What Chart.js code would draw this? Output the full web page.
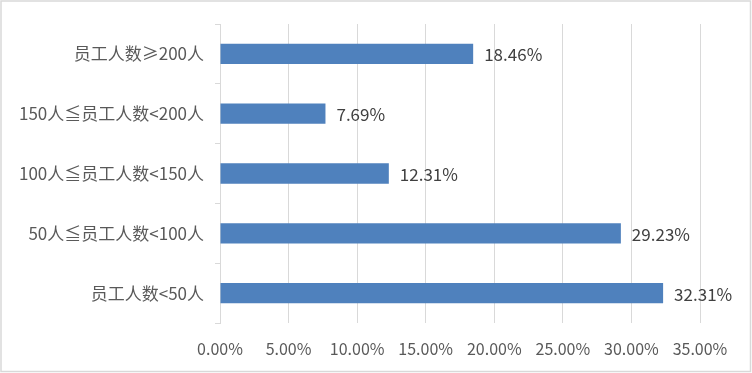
<!DOCTYPE html>
<html>
<head>
<meta charset="utf-8">
<script src="https://cdn.jsdelivr.net/npm/chart.js@4"></script>
<style>
html,body{margin:0;padding:0;background:#fff;}
#wrap{width:752px;height:373px;position:relative;}
</style>
</head>
<body>
<div id="wrap"><canvas id="c" width="752" height="373"></canvas></div>
<script>
const categories = ["员工人数≥200人", "150人≦员工人数<200人", "100人≦员工人数<150人", "50人≦员工人数<100人", "员工人数<50人"];
const values = [18.46, 7.69, 12.31, 29.23, 32.31];
const xTicks = [0, 5, 10, 15, 20, 25, 30, 35];

const FONT = '"Noto Sans CJK SC", "Noto Sans", sans-serif';

const frame = {
  id: 'frame',
  beforeDraw(chart) {
    const ctx = chart.ctx;
    ctx.save();
    ctx.fillStyle = '#ffffff';
    ctx.fillRect(0, 0, chart.width, chart.height);
    ctx.strokeStyle = '#d9d9d9';
    ctx.lineWidth = 1.5;
    ctx.strokeRect(1, 1, chart.width - 2.5, chart.height - 2.5);
    ctx.restore();
  }
};

const labels = {
  id: 'valueLabels',
  afterDatasetsDraw(chart) {
    const ctx = chart.ctx;
    const meta = chart.getDatasetMeta(0);
    ctx.save();
    ctx.font = '17px ' + FONT;
    ctx.fillStyle = '#404040';
    ctx.textAlign = 'left';
    ctx.textBaseline = 'middle';
    meta.data.forEach((bar, i) => {
      ctx.fillText(values[i].toFixed(2) + '%', bar.x + 11, bar.y + 1);
    });
    ctx.restore();
  }
};

new Chart(document.getElementById('c'), {
  type: 'bar',
  data: {
    labels: categories,
    datasets: [{
      data: values,
      backgroundColor: '#4f81bd',
      borderWidth: 0,
      barPercentage: 0.34,
      categoryPercentage: 1.0
    }]
  },
  options: {
    indexAxis: 'y',
    responsive: false,
    animation: false,
    layout: { padding: { left: 0, right: 52, top: 24, bottom: 0 } },
    plugins: { legend: { display: false }, tooltip: { enabled: false } },
    scales: {
      x: {
        min: 0, max: 35,
        afterBuildTicks(scale) { scale.ticks = xTicks.map(v => ({ value: v })); },
        afterFit(scale) { scale.height = 50; },
        grid: { color: '#d9d9d9', lineWidth: 1, drawTicks: false },
        border: { display: false },
        ticks: {
          padding: 16,
          color: '#595959',
          font: { family: FONT, size: 16 },
          callback: v => Number(v).toFixed(2) + '%'
        }
      },
      y: {
        afterFit(scale) { scale.width = 220; },
        grid: { color: '#d9d9d9', lineWidth: 1, drawOnChartArea: false, tickLength: 5, offset: true },
        border: { display: true, color: '#d9d9d9', width: 1 },
        ticks: {
          padding: 11,
          color: '#595959',
          font: { family: FONT, size: 17 }
        }
      }
    }
  },
  plugins: [frame, labels]
});
</script>
</body>
</html>
